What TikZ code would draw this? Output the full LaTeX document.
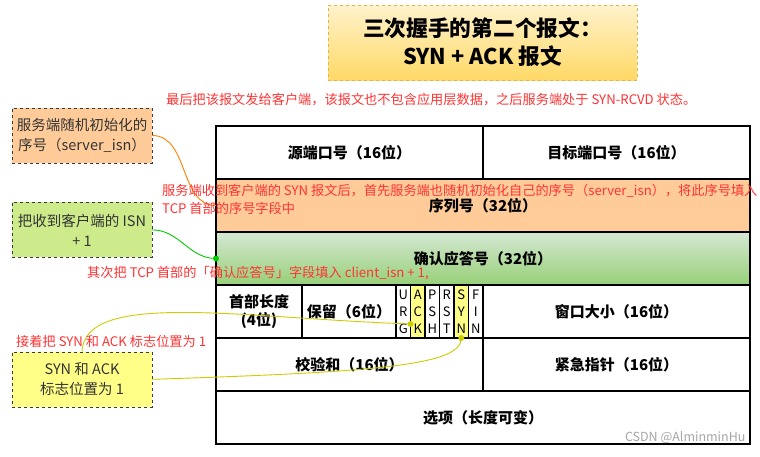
\documentclass[tikz,border=0pt]{standalone}
\usepackage{fontspec}
\setmainfont{Noto Sans CJK SC}
\usetikzlibrary{positioning,calc}

\definecolor{titleedge}{HTML}{D6B656}
\definecolor{titletop}{HTML}{FFF2CC}
\definecolor{titlebot}{HTML}{FFD966}
\definecolor{notered}{HTML}{FF3333}
\definecolor{seqfill}{HTML}{FFCC99}
\definecolor{acktop}{HTML}{D5E8D4}
\definecolor{ackbot}{HTML}{97D077}
\definecolor{flagfill}{HTML}{FFFF88}
\definecolor{plusfill}{HTML}{CDEB8B}
\definecolor{boxgray}{HTML}{36393D}
\definecolor{textgray}{HTML}{333333}
\definecolor{isnline}{HTML}{FF8000}
\definecolor{plusline}{HTML}{00CC00}
\definecolor{sigline}{HTML}{CCCC00}
\definecolor{markgray}{HTML}{A6A6A6}

\begin{document}
\begin{tikzpicture}[x=1pt, y=-1pt,
  field/.style={draw, line width=1.2pt, outer sep=0pt, inner sep=0pt, minimum height=53pt, align=center, font=\bfseries\fontsize{15}{18}\selectfont},
  flag/.style={draw, line width=1.2pt, outer sep=0pt, inner sep=0pt, minimum width=14.5pt, minimum height=53pt, align=center, font=\fontsize{13}{17}\selectfont},
  sidebox/.style={draw=boxgray, dashed, minimum width=140pt, minimum height=55pt, align=center, text=textgray, font=\fontsize{14.5}{20}\selectfont},
  note/.style={text=notered, anchor=west, inner sep=0pt, align=left, font=\fontsize{13.2}{18}\selectfont},
  link/.style={line width=0.9pt}]
  \useasboundingbox (0,0) rectangle (760,456);

  \node[draw=titleedge, dashed, line width=0.8pt, top color=titletop, bottom color=titlebot, minimum width=309pt, minimum height=75pt, align=center, font=\bfseries\fontsize{21.7}{28}\selectfont] (title) at (482.5,42.5) {三次握手的第二个报文：\\SYN + ACK 报文};

  % header fields
  \node[field, minimum width=267pt] (src) at (349.5,152.5) {源端口号（16位）};
  \node[field, minimum width=267pt, right=0pt of src] (dst) {目标端口号（16位）};
  \node[field, minimum width=534pt, fill=seqfill, below=0pt of src.south east] (seq) {序列号（32位）};
  \node[field, minimum width=534pt, top color=acktop, bottom color=ackbot, below=0pt of seq] (ack) {确认应答号（32位）};
  \node[field, minimum width=86pt, below right=0pt and 0pt of ack.south west] (hlen) {首部长度\\(4位)};
  \node[field, minimum width=94pt, right=0pt of hlen] (rsv) {保留（6位）};
  \foreach \l/\c [count=\i] in {{U\\R\\G}/white, {A\\C\\K}/flagfill, {P\\S\\H}/white, {R\\S\\T}/white, {S\\Y\\N}/flagfill, {F\\I\\N}/white}
    \node[flag, fill=\c, anchor=north west] (f\i) at ([xshift={(\i-1)*14.5pt}]rsv.north east) {\l};
  \node[field, minimum width=267pt, right=0pt of f6] (win) {窗口大小（16位）};
  \node[field, minimum width=267pt, below right=0pt and 0pt of hlen.south west] (chk) {校验和（16位）};
  \node[field, minimum width=267pt, right=0pt of chk] (urp) {紧急指针（16位）};
  \node[field, minimum width=534pt, below=0pt of chk.south east] (opt) {选项（长度可变）};

  % side boxes
  \node[sidebox, fill=seqfill] (isnbox) at (82,135.5) {服务端随机初始化的\\序号（server\_isn）};
  \node[sidebox, fill=plusfill, below=39pt of isnbox] (plusbox) {把收到客户端的 ISN\\+ 1};
  \node[sidebox, fill=flagfill, below=94pt of plusbox] (sigbox) {SYN 和 ACK\\标志位置为 1};

  \coordinate (ackdot) at ([yshift=-12.5pt]f2.west);
  \coordinate (syndot) at (f5.south);
  \draw[link, draw=isnline] (isnbox.east) to[out=0, in=180] (seq.west);
  \draw[link, draw=plusline] (plusbox.east) to[out=0, in=180] (ack.west);
  \draw[link, draw=sigline] (sigbox.north) .. controls (85,290) and (240,318) .. (ackdot);
  \draw[link, draw=sigline] (sigbox.east) .. controls (380,372) and (462,365) .. (syndot);
  \fill[plusline] (ack.west) circle (3pt);
  \fill[sigline] (ackdot) circle (3pt) (syndot) circle (3pt);

  % red notes
  \node[note] (lastnote) at (166,100) {最后把该报文发给客户端，该报文也不包含应用层数据，之后服务端处于 SYN-RCVD 状态。};
  \node[note] (seqnote) at (162,199) {服务端收到客户端的 SYN 报文后，首先服务端也随机初始化自己的序号（server\_isn），将此序号填入\\TCP 首部的序号字段中};
  \node[note] (acknote) at (87,273) {其次把 TCP 首部的「确认应答号」字段填入 client\_isn + 1,};
  \node[note] (signote) at (16,341) {接着把 SYN 和 ACK 标志位置为 1};

  \node[anchor=east, text=markgray, font=\fontsize{12.5}{14}\selectfont] (mark) at (749,438) {CSDN @AlminminHu};
\end{tikzpicture}
\end{document}
